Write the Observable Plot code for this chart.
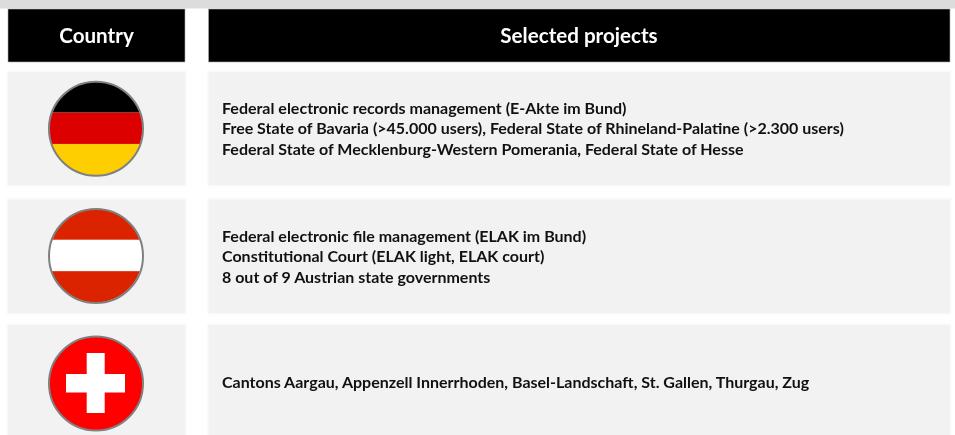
<!DOCTYPE html>
<html>
<head>
<meta charset="utf-8">
<style>html,body{margin:0;padding:0;background:#fff;overflow:hidden}svg{display:block;filter:blur(0.35px)}</style>
<script src="https://cdn.jsdelivr.net/npm/d3@7"></script>
<script src="https://cdn.jsdelivr.net/npm/@observablehq/plot@0.6"></script>
</head>
<body>
<script>
const headers = ["Country", "Selected projects"];
const countries = ["Germany", "Austria", "Switzerland"];
const germanyProjects = [
  "Federal electronic records management (E-Akte im Bund)",
  "Free State of Bavaria (>45.000 users), Federal State of Rhineland-Palatine (>2.300 users)",
  "Federal State of Mecklenburg-Western Pomerania, Federal State of Hesse"
];
const austriaProjects = [
  "Federal electronic file management (ELAK im Bund)",
  "Constitutional Court (ELAK light, ELAK court)",
  "8 out of 9 Austrian state governments"
];
const switzerlandProjects = [
  "Cantons Aargau, Appenzell Innerrhoden, Basel-Landschaft, St. Gallen, Thurgau, Zug"
];
const projects = [germanyProjects, austriaProjects, switzerlandProjects];
const germanyStripes = ["#000000", "#dd0000", "#ffce00"];
const austriaStripes = ["#db2300", "#ffffff", "#db2300"];

// Layout of the table, in the chart's coordinate space
const W = 955, H = 435;
const cols = [{x1: 8, x2: 185}, {x1: 208.5, x2: 950}];
const rows = [{y1: 72, y2: 185}, {y1: 199.5, y2: 313}, {y1: 325, y2: 435}];
const flagCy = [128.3, 255.5, 383];
const flagCx = 95.5, flagR = 47;
const lineYs = [[108, 128.5, 149], [236, 256.5, 277], [382.5]];

const cells = rows.flatMap((r, i) => cols.map(c => ({...c, ...r})));
const heads = headers.map((h, i) => ({h, ...cols[i], y1: 9, y2: 62}));
const lines = projects.flatMap((ls, i) => ls.map((t, j) => ({t, y: lineYs[i][j]})));
const stripeRects = (colors, cy) => colors.map((fill, i) => ({
  fill, x1: flagCx - flagR, x2: flagCx + flagR,
  y1: cy - flagR + i * 2 * flagR / 3, y2: cy - flagR + (i + 1) * 2 * flagR / 3
}));

let clipId = 0;
function clipToCircle(cy) {
  return function(index, scales, values, dims, ctx, next) {
    const g = next(index, scales, values, dims, ctx);
    const id = "flag-clip-" + (++clipId);
    const cp = d3.create("svg:clipPath").attr("id", id);
    cp.append("circle").attr("cx", scales.x(flagCx)).attr("cy", scales.y(cy)).attr("r", flagR);
    g.insertBefore(cp.node(), g.firstChild);
    g.setAttribute("clip-path", `url(#${id})`);
    return g;
  };
}
const FONT = "Lato";
const stripeMark = (data, cy) => Plot.rect(data, {
  x1: "x1", x2: "x2", y1: "y1", y2: "y2", fill: d => d.fill, render: clipToCircle(cy)
});
const ring = cy => Plot.dot([{x: flagCx, y: cy}], {
  x: "x", y: "y", r: flagR, fill: "none", stroke: "#808080", strokeWidth: 2
});
const base = cy => Plot.dot([{x: flagCx, y: cy}], {x: "x", y: "y", r: flagR, fill: "#ffffff"});

const chart = Plot.plot({
  width: W, height: H,
  margin: 0,
  style: {background: "#ffffff", fontFamily: FONT},
  x: {type: "linear", domain: [0, W], range: [0, W], axis: null},
  y: {type: "linear", domain: [0, H], range: [0, H], axis: null},
  color: {type: "identity"},
  marks: [
    // top grey strip
    Plot.rect([{x1: 0, x2: W, y1: 0, y2: 8.5}], {x1: "x1", x2: "x2", y1: "y1", y2: "y2", fill: "#dcdcdc"}),
    // cell halos and cells
    Plot.rect(cells, {x1: d => d.x1 - 1.5, x2: d => d.x2 + 1.5, y1: d => d.y1 - 1.5, y2: d => d.y2 + 1.5, fill: "#fafafa"}),
    Plot.rect(cells, {x1: "x1", x2: "x2", y1: "y1", y2: "y2", fill: "#f2f2f2"}),
    // header cells
    Plot.rect(heads, {x1: "x1", x2: "x2", y1: "y1", y2: "y2", fill: "#000000", stroke: "#b0b0b0", strokeWidth: 0.6}),
    Plot.text(heads, {
      x: (d) => d.h === "Country" ? 96 : 578.5, y: 36, text: "h", fill: "#ffffff",
      fontSize: 20.6, fontWeight: 700, fontFamily: FONT
    }),
    // Germany
    base(flagCy[0]), stripeMark(stripeRects(germanyStripes, flagCy[0]), flagCy[0]), ring(flagCy[0]),
    // Austria
    base(flagCy[1]), stripeMark(stripeRects(austriaStripes, flagCy[1]), flagCy[1]), ring(flagCy[1]),
    // Switzerland
    Plot.dot([{x: flagCx, y: flagCy[2]}], {x: "x", y: "y", r: flagR, fill: "#ff0000", stroke: "#808080", strokeWidth: 2}),
    Plot.rect(
      [{x1: 66, x2: 125, y1: 374, y2: 392.5}, {x1: 86.7, x2: 104.7, y1: 353, y2: 413}],
      {x1: "x1", x2: "x2", y1: "y1", y2: "y2", fill: "#ffffff"}
    ),
    // project lines
    Plot.text(lines, {
      x: 221.5, y: "y", text: "t", textAnchor: "start", fill: "#111111",
      fontSize: 16, fontWeight: 700, fontFamily: FONT
    })
  ]
});
document.body.appendChild(chart);
</script>
</body>
</html>
